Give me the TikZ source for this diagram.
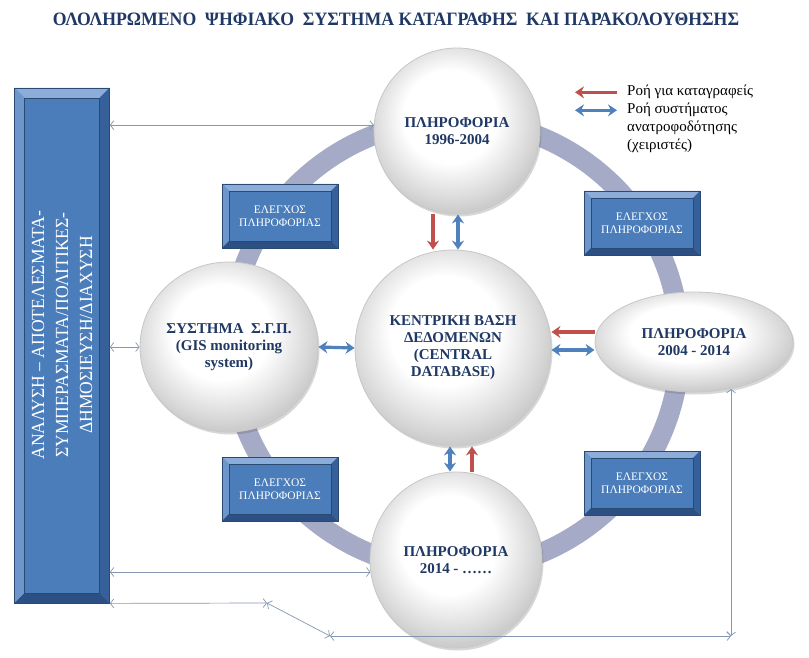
\documentclass[tikz,border=0pt]{standalone}
\usepackage{fontspec}
\usepackage{graphicx}
\setmainfont{Liberation Serif}
\newfontfamily\condserif[FakeStretch=0.95]{Liberation Serif}
\usetikzlibrary{arrows.meta,shapes.geometric,shadows}
\definecolor{navy}{HTML}{1F3864}
\definecolor{ringc}{RGB}{165,170,199}
\definecolor{bvface}{HTML}{4A7DBA}
\definecolor{bvtop}{HTML}{8CADDA}
\definecolor{bvleft}{HTML}{6D96CC}
\definecolor{bvbot}{HTML}{2C5084}
\definecolor{bvright}{HTML}{36609A}
\definecolor{bvedge}{HTML}{2A4A72}
\definecolor{arred}{HTML}{C0504D}
\definecolor{arblue}{HTML}{4F81BD}
\definecolor{conn}{HTML}{8497B0}
\pgfdeclareradialshading{bubshade}{\pgfpoint{-3bp}{6bp}}{%
  color(0bp)=(white); color(14bp)=(white); color(24bp)=(black!15); color(27bp)=(black!20); color(50bp)=(black!20)}
\tikzset{
  bevel/.style={fill=bvface, draw=bvedge, line width=0.8pt, inner sep=0pt,
    path picture={
      \path (path picture bounding box.north west) coordinate (pnw)
            (path picture bounding box.south east) coordinate (pse)
            (path picture bounding box.north east) coordinate (pne)
            (path picture bounding box.south west) coordinate (psw);
      \fill[bvtop] (pnw) -- (pne) -- ([shift={(-#1,-#1)}]pne) -- ([shift={(#1,-#1)}]pnw) -- cycle;
      \fill[bvleft] (pnw) -- (psw) -- ([shift={(#1,#1)}]psw) -- ([shift={(#1,-#1)}]pnw) -- cycle;
      \fill[bvbot] (psw) -- (pse) -- ([shift={(-#1,#1)}]pse) -- ([shift={(#1,#1)}]psw) -- cycle;
      \fill[bvright] (pne) -- (pse) -- ([shift={(-#1,#1)}]pse) -- ([shift={(-#1,-#1)}]pne) -- cycle;
      \draw[bvedge, line width=0.5pt] ([shift={(#1,-#1)}]pnw) rectangle ([shift={(-#1,#1)}]pse);
    }},
  bevel/.default=7pt,
  ctrlbox/.style={bevel=7pt, minimum width=116pt, minimum height=64pt, text=white,
    align=center, font=\fontsize{11.5}{13}\selectfont},
  bub/.style={shading=bubshade, draw=black!22,
    line width=0.8pt, inner sep=0pt, align=center, text=navy,
    font=\fontsize{15}{17}\selectfont\bfseries,
    drop shadow={shadow xshift=1.5pt, shadow yshift=-2.5pt, opacity=0.22, fill=black!70}},
  thick arr/.style={line width=3.2pt, -{Stealth[length=9pt,width=12pt,inset=3pt]}},
  red arr/.style={thick arr, draw=arred, color=arred},
  blue arr/.style={line width=3.2pt, draw=arblue, color=arblue,
    {Stealth[length=9pt,width=12pt,inset=3pt]}-{Stealth[length=9pt,width=12pt,inset=3pt]}},
  thin conn/.style={draw=conn, line width=0.7pt,
    {Straight Barb[length=3.5pt,width=9pt]}-{Straight Barb[length=3.5pt,width=9pt]}},
  legtext/.style={anchor=base west, inner sep=0pt, font=\fontsize{15}{17}\selectfont}
}
\begin{document}
\begin{tikzpicture}[x=1pt,y=-1pt]
\useasboundingbox[fill=white] (0,0) rectangle (809,658);

% title
\node[text=navy, inner sep=0pt] (title) at (396,19)
  {\resizebox{686pt}{12.5pt}{\bfseries ΟΛΟΛΗΡΩΜΕΝΟ~~ΨΗΦΙΑΚΟ~~ΣΥΣΤΗΜΑ ΚΑΤΑΓΡΑΦΗΣ~~ΚΑΙ ΠΑΡΑΚΟΛΟΥΘΗΣΗΣ}};

% ring
\draw[ringc, line width=20pt] (455,345) circle[radius=225pt];

% control boxes
\node[ctrlbox] (c1) at (280,216) {ΕΛΕΓΧΟΣ\\ΠΛΗΡΟΦΟΡΙΑΣ};
\node[ctrlbox] (c2) at (642,223) {ΕΛΕΓΧΟΣ\\ΠΛΗΡΟΦΟΡΙΑΣ};
\node[ctrlbox] (c3) at (280,489) {ΕΛΕΓΧΟΣ\\ΠΛΗΡΟΦΟΡΙΑΣ};
\node[ctrlbox] (c4) at (642,483) {ΕΛΕΓΧΟΣ\\ΠΛΗΡΟΦΟΡΙΑΣ};

% left column box
\node[bevel=10pt, minimum width=95pt, minimum height=515pt] (lbox) at (62,345.5) {};
\node[rotate=90, text=white, align=center, inner sep=0pt,
      font=\condserif\fontsize{18.5}{24}\selectfont] (ltext) at (62,335)
  {ΑΝΑΛΥΣΗ – ΑΠΟΤΕΛΕΣΜΑΤΑ-\\ΣΥΜΠΕΡΑΣΜΑΤΑ/ΠΟΛΙΤΙΚΕΣ-\\ΔΗΜΟΣΙΕΥΣΗ/ΔΙΑΧΥΣΗ};

% bubbles
\node[bub, circle, minimum size=166pt] (top) at (457,131) {ΠΛΗΡΟΦΟΡΙΑ\\1996-2004};
\node[bub, circle, minimum size=196pt] (cdb) at (453,348) {ΚΕΝΤΡΙΚΗ ΒΑΣΗ\\ΔΕΔΟΜΕΝΩΝ\\(CENTRAL\\DATABASE)};
\node[bub, ellipse, minimum width=178pt, minimum height=170pt] (gis) at (229,347) {ΣΥΣΤΗΜΑ~~Σ.Γ.Π.\\(GIS monitoring\\system)};
\node[bub, ellipse, minimum width=198pt, minimum height=100pt] (rgt) at (694,342) {ΠΛΗΡΟΦΟΡΙΑ\\2004 - 2014};
\node[bub, ellipse, minimum width=172pt, minimum height=176pt] (bot) at (456,560) {ΠΛΗΡΟΦΟΡΙΑ\\2014 - ……};

% thick flow arrows
\draw[red arr] ([xshift=-24pt]top.south) -- ([xshift=-24pt]top.south |- cdb.north);
\draw[blue arr] ([xshift=1pt]top.south) -- ([xshift=1pt]top.south |- cdb.north);
\draw[red arr] ([yshift=10pt]rgt.west) -- ([yshift=10pt]rgt.west -| cdb.east);
\draw[blue arr] ([yshift=-8pt]rgt.west) -- ([yshift=-8pt]rgt.west -| cdb.east);
\draw[blue arr] (gis.east) -- (cdb.west);
\draw[blue arr] ([xshift=-3pt]cdb.south) -- ([xshift=-3pt]cdb.south |- bot.north);
\draw[red arr] ([xshift=16pt]bot.north) -- ([xshift=16pt]bot.north |- cdb.south);

% thin connectors
\coordinate (k1) at (267,603);
\coordinate (k2) at (330,636);
\coordinate (k3) at (731,636);
\coordinate (k4) at (731,389);
\draw[thin conn] (lbox.east |- top.176) -- (top.176);
\draw[thin conn] (lbox.east |- gis.west) -- (gis.west);
\draw[thin conn] (lbox.east |- bot.188) -- (bot.188);
\draw[thin conn] (lbox.south east) -- (k1);
\draw[thin conn] (k1) -- (k2);
\draw[thin conn] (k2) -- (k3);
\draw[thin conn] (k4) -- (k3);

% legend
\node[legtext] (lg1) at (627,96) {Ροή για καταγραφείς};
\node[legtext] (lg2) at (627,114) {Ροή συστήματος};
\node[legtext] (lg3) at (627,132) {ανατροφοδότησης};
\node[legtext] (lg4) at (627,150) {(χειριστές)};
\draw[red arr] ([xshift=-10pt]lg1.west) -- ++(-42,0);
\draw[blue arr] ([xshift=-10pt]lg2.west) -- ++(-42,0);
\end{tikzpicture}
\end{document}
